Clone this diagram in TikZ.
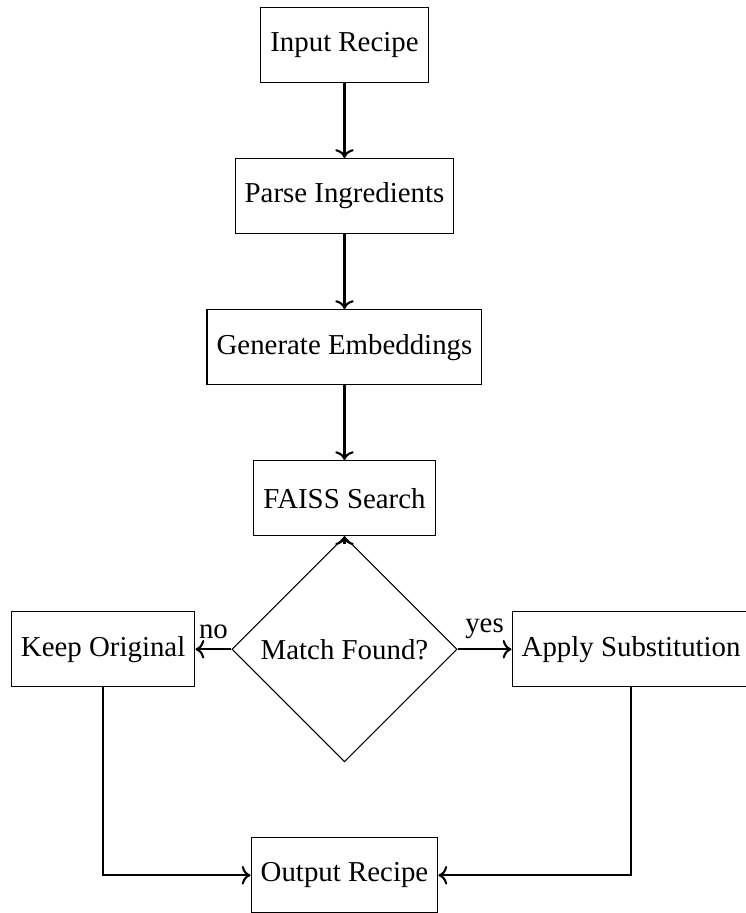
\documentclass[tikz,border=0pt,11pt]{standalone}
\usepackage{fontspec}
\setmainfont{Liberation Serif}
\usetikzlibrary{positioning,shapes.geometric,arrows.meta}
\tikzset{%
    box/.style={draw, rectangle, minimum height=1cm},
    decision/.style={draw, diamond, aspect=1, minimum size=3cm, inner sep=0pt},
    arrow/.style={thick, ->}
}

\begin{document}
\begin{tikzpicture}[node distance=1cm]
  \useasboundingbox (-4.593,0.6) rectangle (5.34,-11.573);
  \node[box] (input) at (0,0) {Input Recipe};
  \node[box, below=of input] (parse) {Parse Ingredients};
  \node[box, below=of parse] (embed) {Generate Embeddings};
  \node[box, below=of embed] (faiss) {FAISS Search};
  \node[decision, below=0cm of faiss] (match) {Match Found?};
  \node[box, left=0.48cm of match] (keep) {Keep Original};
  \node[box, right=0.72cm of match] (apply) {Apply Substitution};
  \node[box, below=1cm of match] (output) {Output Recipe};
  \draw[arrow] (input) -- (parse);
  \draw[arrow] (parse) -- (embed);
  \draw[arrow] (embed) -- (faiss);
  \draw[arrow] ([yshift=-3pt]match.north) -- (faiss.south);
  \draw[arrow] (match) -- node[above]{no} (keep);
  \draw[arrow] (match) -- node[above]{yes} (apply);
  \draw[arrow] (keep) |- (output);
  \draw[arrow] (apply) |- (output);
\end{tikzpicture}
\end{document}
